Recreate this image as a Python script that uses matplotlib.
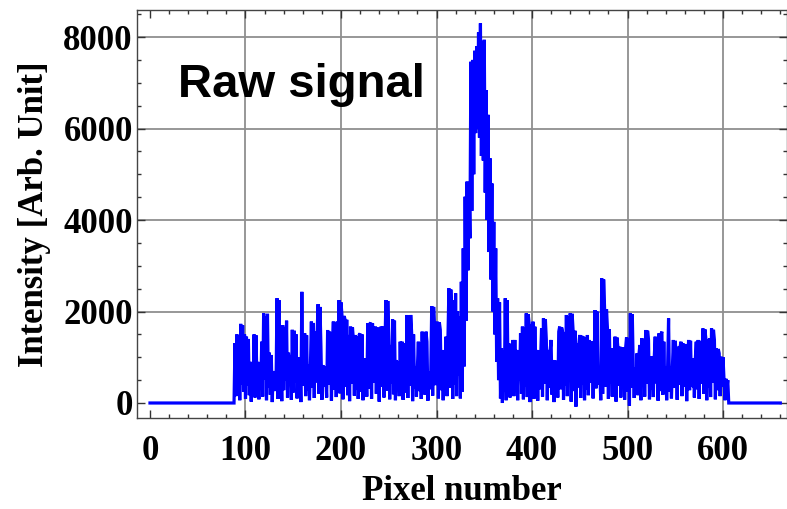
#!/usr/bin/env python3

import numpy as np
import matplotlib.pyplot as plt

# flat dark level before and after the illuminated pixels
lead = [0] * 89
tail = [0] * 55

# pixels 89..605
body = [
    1310, 150, 1500, 320, 1480, 60, 1730, 410, 1700, 250,      # 89
    1500, 90, 1450, 380, 1400, 170, 900, 30, 880, 260,          # 99
    1500, 120, 1480, 460, 900, 80, 860, 300, 1340, 140,         # 109
    1960, 520, 1900, 60, 1950, 330, 1100, 180, 1050, 20,        # 119
    700, 260, 680, 410, 2290, 90, 2250, 350, 800, 40,           # 129
    1700, 280, 1650, 500, 1800, 120, 1100, 390, 1050, 70,       # 139
    1600, 230, 1580, 440, 1500, 100, 1000, 310, 950, 20,        # 149
    2430, 380, 1200, 1523, 150, 1480, 270, 850, 60, 820,        # 159
    1780, 330, 1750, 110, 1560, 450, 1530, 2160, 200, 2100,     # 169
    1230, 70, 830, 360, 800, 574, 120, 1596, 400, 1560,         # 179
    1230, 50, 1200, 1780, 290, 1750, 130, 1780, 470, 2250,      # 189
    210, 2200, 1924, 80, 1900, 1850, 350, 1820, 170, 1487,      # 199
    40, 1670, 420, 1650, 1380, 160, 1487, 300, 1460, 90,        # 209
    1487, 1520, 250, 1500, 60, 976, 380, 950, 140, 1741,        # 219
    310, 1720, 1760, 90, 1740, 440, 1200, 1670, 200, 1650,      # 229
    1230, 30, 1200, 1670, 360, 1669, 120, 1159, 2251, 270,      # 239
    2230, 1340, 80, 1268, 430, 1830, 190, 1800, 60, 940,        # 249
    300, 900, 150, 1340, 420, 1340, 70, 1300, 1159, 230,        # 259
    1924, 110, 1900, 380, 1924, 1523, 40, 1500, 320, 794,       # 269
    140, 780, 1340, 260, 1320, 90, 1560, 450, 1540, 180,        # 279
    1560, 1340, 50, 685, 300, 660, 2120, 160, 2100, 1630,       # 289
    390, 1600, 1778, 100, 1760, 1596, 280, 1159, 60, 1140,      # 299
    410, 1450, 150, 1430, 2507, 330, 2480, 1778, 90, 2250,      # 309
    400, 2400, 150, 2000, 600, 1900, 100, 2650, 250, 3380,      # 319
    800, 4510, 1800, 4840, 2900, 4800, 3600, 7460, 4200, 7500,  # 329
    5000, 7700, 5900, 7800, 6000, 8100, 5800, 8300, 5400, 7900, # 339
    5300, 7940, 4600, 6840, 4000, 6300, 3300, 5350, 2700, 4800, # 349
    2000, 3960, 1500, 3380, 900, 2290, 500, 2200, 100, 1200,    # 359
    0, 1150, 250, 2290, 60, 2250, 400, 1300, 120, 1268,         # 369
    300, 1378, 150, 1378, 420, 1160, 60, 1150, 500, 1523,       # 379
    200, 1670, 80, 1650, 350, 1960, 130, 1940, 1742, 20,        # 389
    1720, 270, 1778, 90, 1669, 380, 1160, 50, 1140, 300,        # 399
    940, 1630, 140, 1850, 420, 1830, 1378, 60, 1160, 330,       # 409
    1150, 1378, 180, 940, 20, 930, 450, 900, 120, 1560,         # 419
    1670, 300, 1650, 1560, 70, 1540, 390, 1924, 150, 1900,      # 429
    480, 1960, 30, 1950, 1596, 260, 1580, -80, 1300, 340,       # 439
    1280, 1487, 110, 1470, 410, 1450, 60, 1440, 290, 1487,      # 449
    170, 1378, 440, 1350, 794, 100, 780, 2032, 320, 2000,       # 459
    722, 400, 700, 60, 2726, 200, 2700, 2070, 350, 2050,        # 469
    1630, 90, 1610, 420, 1195, 140, 1180, 300, 1450, 30,        # 479
    1430, 1195, 380, 1230, 120, 1210, 450, 1210, 70, 1200,      # 489
    1435, 250, 1420, -60, 1960, 330, 1940, 794, 110, 780,       # 499
    400, 1086, 170, 1070, 1268, 60, 1415, 360, 1400, 140,       # 509
    1596, 420, 1580, 1378, 80, 1013, 300, 1013, 130, 1000,      # 519
    1450, 430, 1440, 50, 1523, 260, 1500, 1560, 180, 1340,      # 529
    410, 794, 60, 780, 1851, 250, 794, 100, 780, 1378,          # 539
    330, 1360, 1013, 70, 1230, 400, 1220, 1340, 150, 1305,      # 549
    360, 1290, 940, 40, 930, 1378, 280, 1360, 400, 380,         # 559
    976, 120, 960, 1340, 300, 1378, 90, 1360, 420, 940,         # 569
    1630, 200, 1610, 1415, 60, 1400, 330, 1415, 130, 1630,      # 579
    450, 1600, 1378, 80, 1195, 280, 1180, 1086, 150, 1013,      # 589
    350, 1000, 540, 60, 530, 300, 500,                          # 599
]

intensity = np.array(lead + body + tail, dtype=float)
pixel = np.arange(len(intensity))

x_grid = [100, 200, 300, 400, 500, 600]
y_grid = [2000, 4000, 6000, 8000]


def main():
    fig = plt.figure(figsize=(7.87, 5.09), dpi=100)
    ax = fig.add_axes([137 / 787, 1 - 418 / 509, 650 / 787, 408 / 509])

    for x in x_grid:
        ax.axvline(x, color="#8f8f8f", linewidth=1.3, zorder=0)
    for y in y_grid:
        ax.axhline(y, color="#8f8f8f", linewidth=1.3, zorder=0)

    ax.plot(pixel, intensity, color="#0000ff", linewidth=2.3, zorder=2,
            solid_joinstyle="miter")

    ax.set_xlim(-13.6, 667)
    ax.set_ylim(-328, 8591)
    ax.set_xticks([0, 100, 200, 300, 400, 500, 600])
    ax.set_yticks([0, 2000, 4000, 6000, 8000])
    ax.set_xticks(np.arange(0, 661, 20), minor=True)
    ax.set_yticks(np.arange(0, 8600, 500), minor=True)
    ax.tick_params(which="both", direction="in", top=True, right=True,
                   color="#333333", width=1)
    ax.tick_params(which="major", length=6)
    ax.tick_params(which="minor", length=3)
    ax.tick_params(axis="x", pad=12)
    ax.tick_params(axis="y", pad=3)

    serif = {"family": "Liberation Serif", "weight": "bold", "size": 25}
    for lab in ax.get_xticklabels() + ax.get_yticklabels():
        lab.set_fontfamily("Liberation Serif")
        lab.set_fontweight("bold")
        lab.set_fontsize(25)

    for side in ax.spines.values():
        side.set_color("#444444")
        side.set_linewidth(1.0)

    ax.set_xlabel("Pixel number", fontdict=serif, labelpad=5)
    ax.set_ylabel("Intensity [Arb. Unit]", fontdict=serif, labelpad=9)

    ax.text(29, 6690, "Raw signal", family="Liberation Sans", weight="bold",
            fontsize=34, ha="left", va="baseline")

    fig.savefig("out.png", dpi=100)


if __name__ == "__main__":
    main()
